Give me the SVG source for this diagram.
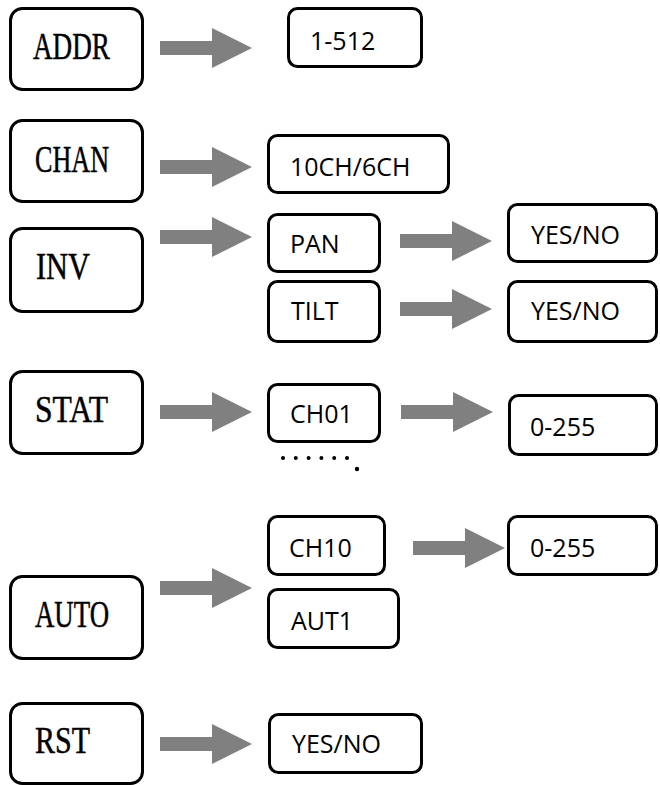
<svg xmlns="http://www.w3.org/2000/svg" xmlns:xlink="http://www.w3.org/1999/xlink" width="660" height="785" viewBox="0 0 660 785">
  <style>
    .menu { fill: #ffffff; stroke: #000000; stroke-width: 3; }
    .opt { fill: #ffffff; stroke: #000000; stroke-width: 3; }
    .mt { font-family: "Liberation Serif", "DejaVu Serif", serif; font-size: 38px; fill: #000000; stroke: #000000; stroke-width: 0.5; }
    .ot { font-family: "Open Sans", "Noto Sans", "Liberation Sans", sans-serif; font-size: 25px; fill: #000000; }
    .arrow { fill: #808080; }
    .dot { fill: #000000; }
  </style>
  <defs>
    <!-- block arrow, tip at the origin -->
    <path id="blockArrow" d="M-92,-7 H-40 V-20 L0,0 L-40,20 V7 H-92 Z"/>
  </defs>

  <rect width="660" height="785" fill="#ffffff"/>

  <!-- connectors -->
  <g id="connectors" class="arrow">
    <use xlink:href="#blockArrow" href="#blockArrow" transform="translate(252,48)"/>
    <use xlink:href="#blockArrow" href="#blockArrow" transform="translate(252,167)"/>
    <use xlink:href="#blockArrow" href="#blockArrow" transform="translate(252,237)"/>
    <use xlink:href="#blockArrow" href="#blockArrow" transform="translate(492,241)"/>
    <use xlink:href="#blockArrow" href="#blockArrow" transform="translate(492,309)"/>
    <use xlink:href="#blockArrow" href="#blockArrow" transform="translate(252,412)"/>
    <use xlink:href="#blockArrow" href="#blockArrow" transform="translate(493,412)"/>
    <use xlink:href="#blockArrow" href="#blockArrow" transform="translate(252,588)"/>
    <use xlink:href="#blockArrow" href="#blockArrow" transform="translate(505,548)"/>
    <use xlink:href="#blockArrow" href="#blockArrow" transform="translate(252,744)"/>
  </g>

  <!-- menu entries -->
  <g id="addr">
    <rect class="menu" x="10.5" y="8.5" width="132" height="81" rx="12"/>
    <text class="mt" x="33" y="59" textLength="77" lengthAdjust="spacingAndGlyphs">ADDR</text>
  </g>
  <g id="chan">
    <rect class="menu" x="10.5" y="120.5" width="132" height="81" rx="12"/>
    <text class="mt" x="35" y="172" textLength="74" lengthAdjust="spacingAndGlyphs">CHAN</text>
  </g>
  <g id="inv">
    <rect class="menu" x="10.5" y="228.5" width="132" height="83" rx="12"/>
    <text class="mt" x="36" y="279" textLength="54" lengthAdjust="spacingAndGlyphs">INV</text>
  </g>
  <g id="stat">
    <rect class="menu" x="10.5" y="371.5" width="132" height="82" rx="12"/>
    <text class="mt" x="35" y="422" textLength="73" lengthAdjust="spacingAndGlyphs">STAT</text>
  </g>
  <g id="auto">
    <rect class="menu" x="10.5" y="576.5" width="132" height="82" rx="12"/>
    <text class="mt" x="35" y="627" textLength="74" lengthAdjust="spacingAndGlyphs">AUTO</text>
  </g>
  <g id="rst">
    <rect class="menu" x="10.5" y="703.5" width="132" height="80" rx="12"/>
    <text class="mt" x="35" y="753" textLength="55" lengthAdjust="spacingAndGlyphs">RST</text>
  </g>

  <!-- option values -->
  <g id="addr-range">
    <rect class="opt" x="288.5" y="8.5" width="133" height="58" rx="9"/>
    <text class="ot" x="310" y="50">1-512</text>
  </g>
  <g id="chan-mode">
    <rect class="opt" x="268.5" y="135.5" width="180" height="57" rx="9"/>
    <text class="ot" x="290" y="176">10CH/6CH</text>
  </g>
  <g id="inv-pan">
    <rect class="opt" x="268.5" y="214.5" width="111" height="57" rx="9"/>
    <text class="ot" x="290" y="253">PAN</text>
  </g>
  <g id="inv-tilt">
    <rect class="opt" x="268.5" y="281.5" width="111" height="60" rx="9"/>
    <text class="ot" x="291" y="320">TILT</text>
  </g>
  <g id="pan-yesno">
    <rect class="opt" x="508.5" y="204.5" width="148" height="57" rx="9"/>
    <text class="ot" x="531" y="244">YES/NO</text>
  </g>
  <g id="tilt-yesno">
    <rect class="opt" x="508.5" y="281.5" width="148" height="60" rx="9"/>
    <text class="ot" x="531" y="320">YES/NO</text>
  </g>
  <g id="stat-ch01">
    <rect class="opt" x="268.5" y="384.5" width="111" height="57" rx="9"/>
    <text class="ot" x="290" y="423">CH01</text>
  </g>
  <g id="ch01-value">
    <rect class="opt" x="509.5" y="395.5" width="147" height="59" rx="9"/>
    <text class="ot" x="530" y="436">0-255</text>
  </g>
  <g id="stat-more">
    <circle class="dot" cx="283" cy="458" r="2"/>
    <circle class="dot" cx="295.8" cy="458" r="2"/>
    <circle class="dot" cx="308.6" cy="458" r="2"/>
    <circle class="dot" cx="321.4" cy="458" r="2"/>
    <circle class="dot" cx="334.2" cy="458" r="2"/>
    <circle class="dot" cx="347" cy="458" r="2"/>
    <circle class="dot" cx="357" cy="469" r="2.2"/>
  </g>
  <g id="auto-ch10">
    <rect class="opt" x="268.5" y="516.5" width="116" height="58" rx="9"/>
    <text class="ot" x="289" y="557">CH10</text>
  </g>
  <g id="ch10-value">
    <rect class="opt" x="508.5" y="516.5" width="148" height="58" rx="9"/>
    <text class="ot" x="530" y="557">0-255</text>
  </g>
  <g id="auto-aut1">
    <rect class="opt" x="268.5" y="589.5" width="130" height="58" rx="9"/>
    <text class="ot" x="291" y="630">AUT1</text>
  </g>
  <g id="rst-yesno">
    <rect class="opt" x="269.5" y="714.5" width="152" height="58" rx="9"/>
    <text class="ot" x="292" y="753">YES/NO</text>
  </g>
</svg>
